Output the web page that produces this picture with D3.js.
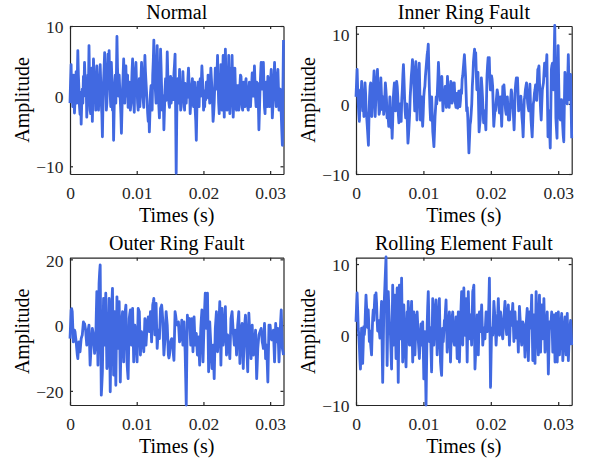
<!DOCTYPE html>
<html>
<head>
<meta charset="utf-8">
<script src="https://cdn.jsdelivr.net/npm/d3@7"></script>
<style>
  html, body { margin: 0; padding: 0; background: #fff; }
  svg { display: block; }
  text { font-family: "Liberation Serif", "Times New Roman", serif; }
</style>
</head>
<body>
<svg id="chart" width="590" height="464"></svg>
<script>
// ---------------- DATA ----------------
const titles = ["Normal", "Inner Ring Fault", "Outer Ring Fault", "Rolling Element Fault"];
const xLabel = "Times (s)";
const yLabel = "Amplitude";
const duration = 0.032;
const xTicks = [0, 0.01, 0.02, 0.03];
const xTickLabels = ["0", "0.01", "0.02", "0.03"];
const yTicksNormal = [-10, 0, 10];
const yTicksInner = [-10, 0, 10];
const yTicksOuter = [-20, 0, 20];
const yTicksRolling = [-10, 0, 10];
const yLimNormal = [-11.1, 10];
const yLimInner = [-10, 11.1];
const yLimOuter = [-24.3, 20.5];
const yLimRolling = [-10, 10.9];

const normal = [
-1,2,4.5,-0.5,1,-1.5,3,0.5,-2.4,-0.5,2,3.5,-1,2.5,6.5,3,1,-1.5,-2.6,
0.5,-4,-1,1,-1,2.8,1,4.8,2.5,0,1.5,-3,-1,3,1,7.2,2,-2,-2.5,2,
4,-3.6,0,5.3,3,1,2,-2,1,4.3,2.5,-1,-2,2,0,4.5,2,-1,-2.5,-5.8,
-1,2,4,6.2,3.5,1.8,-2,-1,2.5,6,3,6.5,2.5,0,-1.5,4.8,2.5,-2,0.5,-6.3,
-2,1.8,3,-1,3,8.5,4,1.8,0,3,1,-0.6,-2.5,-5.3,-2,1,3,5.3,2.5,-1,
1.5,4.3,0,2,3,-1.6,0,2,0.5,-2,-1,1,3.5,5.3,2,-1,-2.3,2,3.5,4.8,
2,1,-1,-2,1,2.5,-1.5,0.3,2.5,4.8,3,1,-0.5,-1.6,2.5,5.8,3.5,2,0.5,-0.6,
-2.5,-3.6,-1.5,-5.1,-2.5,0.5,1.5,-0.6,-2,3,5,8,4.5,2,0.5,-1,3,7.2,3.5,1,
-1.5,-3.1,1.5,6.7,4,1,-2,-1,0,-4.8,-2,1,2.5,-0.6,2,6.3,3,1,-1,-1.6,
0.5,2.8,-1,0,2.5,1.5,-0.5,3.3,4.5,6,-2,-11,-3,1,2.5,-1,0,3.8,1,-2,
-1.5,1,0,3.5,1.5,-0.6,-2,1.8,0.5,-1,1.5,-0.2,2.5,4,2,1,-2.5,-1,0,1.5,
2.5,-0.2,-1.5,1,2,-2,-3.5,-6.3,-2,1,2,-0.6,-1.5,1.8,2.5,0,2,4.3,2.5,1,
-2,-1,-1.5,0.8,-0.5,2,0,-0.2,3,1.8,0.5,-1,1.5,4,2.5,1,-1,-3.6,-2.5,-1,
1.5,4,2.5,1,3,5.8,2,-1,-2.5,2.8,0,4.5,1.5,-2,2,5.8,1,-3,1.5,6.7,
3,0,-2,3,1,5.8,2,-2.5,-1,4,0.5,5.8,2,-3,-1,3,4,1,-1.5,-2,
1.5,0,1.5,-2,-1,1.5,3,2.8,0.5,-1.6,-2,1,2,-0.6,-1.5,1.8,2.5,0,1,-1.6,
-2,1,2,-0.5,-1.5,0.3,1.5,3.3,1.5,0,1.5,4.3,2,-0.2,-1.5,2,0,1.8,-1,-4.8,
-2,1,3,4.8,2,1,2.5,4.8,1.5,-1.6,-2.5,1,2,-0.2,-1.5,2.8,1,0,-1.5,1.8,
2.5,3.8,0.5,-3.1,-1.5,1,2.5,4.8,1.5,0,-1.5,1.8,3,3.8,1,-2,-1,1,-0.5,-2.6,
-5,-7,1,8];

const inner = [
1,3,4.9,2,0,-1.5,-2.5,0,2,1,3.2,1.5,-1,1,-1.8,0.5,3,1.5,-1,
-2,-3.2,-4.5,-5.9,-2,1,2.5,3,0.5,-1.8,0,2,3,4.7,1.5,-1.8,0.5,2,3.5,4.9,
2.5,0.6,-1.5,-1,1,3.7,1.5,-0.8,0.5,1,-1.5,-0.8,1,3,2,0.6,-2,-1,-2,-3.2,
-1,1,-1.5,-3.4,-2,-4.9,-2.5,0.8,2,3,1.5,-1,1,3.2,2.5,1,-1.5,-2.7,-1,0,
-1.5,-2.5,0.5,2,4,5.6,3.5,1,-1,-2,-1.5,0,-3,-5.6,-4.5,-3,-1.5,1,2.5,4,
5,6.3,5,3.5,1.5,-1,3.5,6,2.5,-2.3,0.5,3,4.5,5.8,2,-2.3,-0.5,1,-1,-3.2,
-1.5,1,2,2.5,4,5,6,7,7.5,8.5,5,2,-0.5,-2.3,-1,1,-1.5,-4,-5,-6.1,
-4,-1.8,-0.5,1,0,1.5,3.5,5.9,4,2,0.5,1,2.5,3.9,1.5,-1,0.5,2,0.5,2.5,
1,-0.5,1.5,3.9,2,0,-0.5,1,2,3.2,1.5,0.1,0.5,2,3,3,1,0.1,-0.5,1.5,
0,-0.6,1,1.8,0.5,-0.4,0.5,2,1.5,3.5,4,5,6,7,5.5,4,1.5,-1,-0.5,-2,
-4.5,-7,-5,-3,-2.5,-1.3,0,2.5,4,6,7,7.8,6,7.3,4.5,2,2.5,4.5,0,-4,
-3,-2.3,0.5,3.7,2.5,1,-1,-2.7,-2,-1,-2.5,-3.7,0,4,5.5,6.6,5,6.6,3.5,2,
3,4,3.5,2.5,-0.5,-3.2,-2,-1,-1,0.1,1,2,1.5,0.6,-0.5,-1.3,-0.5,1,-1,-3.2,
-0.5,2.5,1,2.7,1.5,0,-1,-1.5,-0.5,1,-0.5,-2.3,-1,-2.3,-1,0.8,2,1.5,-0.5,0.1,
-2,-3.7,-1,2,3,3.7,2,3.7,1.5,-1,0,-0.8,0,1.1,-0.5,-2,-3,-4.7,-2,0.6,
1,2,2.5,3,1.5,0.1,-0.5,-1,1,2.8,0,-2.3,-3.5,-4.7,-2.5,0,0.5,1.5,2,2.7,
1.5,0.5,3,4.9,5,5.4,3,1,-1,-2.3,0,2,2.5,3,4.5,5.8,5,4,5.5,7,
1,-4.7,-3,-1,-4,-6.3,-1,4.9,5.5,5.8,4,2,7,11.2,5,-2,-3.5,-4.9,2,8.3,
3,-1,-2,-2.3,-1,0.6,-1,-3,-4.5,-5.4,0,4.5,3.5,2,1,0,3.5,7,3.5,0.6,
2.5,4.2,-0.5,-4.9];

const outer = [
-4.1,0,4.6,5,4.1,-0.5,-5.1,-3,-1.5,-2,-3.6,-5,-7.1,-9,-10.2,-7.5,-5.1,-6.5,-8.1,
-6,-4.1,-3.5,-3,-1,1,0,0.5,-0.5,-1.5,-4,-6.1,-4,-2,-1,0,-6,-12.2,-9,-6.1,
-3.5,-1,-2,-3,-6,-8.6,-7,-5.1,3,10.2,-1,-12.2,0,12.7,16,18.3,-2,-21.3,-18,-14.2,
-3,8.1,1,-6.1,2,9.7,-2,-13.2,-12,-10.2,-1,8.1,-6,-20.3,-9,2,7,11.2,-2,-15.2,
-5,4.1,-7,-18.3,-5,8.6,1,-7.1,0,7.1,-5,-17.3,-8,0.5,2,4.1,-3.5,-11.2,-4,3,
4.5,6.1,-2.5,-11.2,-14,-16.3,-7,2,3.5,4.6,-1,-6.1,-0.5,5.1,-3,-11.2,-5.5,0,-1.5,-3,
-7,-11.2,-3,5.1,4.5,4.1,-2.5,-9.1,-5.5,-2,-3,-4.1,-6,-8.1,-3,2,-2,-6.1,-3,0,
1.5,2.5,0,-2,1,4.1,-0.5,-5.1,0.5,6.1,7,8.1,2.5,-3,1.5,6.6,-0.5,-7.1,-4,-1.5,
-3,-4.1,0.5,5.1,5.5,6.1,4,1.5,-4,-9.1,-6.5,-4.1,0,4.1,2,0,-4.5,-9.1,-10,-9.1,
-7,-5.1,-4.5,-4.1,-5.5,-7.1,-9,-10.7,-3,4.1,3,1.5,0.5,0,0.5,1,-2,-5.1,-4.5,-4.1,
-1.5,1.5,-2.5,-6.1,-2.5,1,-3.5,-8.1,-16,-24.3,-10,3,1,-0.5,1,2,-2,-6.1,-2,2,
-3,-8.1,-3,2.5,-2,-6.1,-4.5,-2.5,-6,-9.1,-6,-3.6,-8,-12.2,-6.5,-1,2,4.6,-3.5,-11.2,
-5,1,5.5,9.7,4,-1,4.5,9.7,-2,-14.2,-6.5,1,-2.5,-6.1,-10,-13.2,-10,-6.1,-11,-16.3,
-8.5,-1,1.5,4.1,-2,-8.1,-5,-2,2.5,7.1,-2.5,-12.2,-3.5,5.1,-0.5,-6.1,-4,-2,2,5.6,
-2,-9.1,-6,-3,-4.5,-6.1,-8,-10.2,-4,2,3,4.1,1,-2,-4,-6.1,-4,-1.5,-5,-9.1,
-4.5,0,2,4.1,-4,-11.7,-6.5,-1,-0.5,0.5,-6,-13.2,-7,-1,1,3,-1.5,-6.1,-10,-14.2,
-5,3.6,0,-3,-6.5,-10.2,-5,0,-4.5,-9.1,-7.5,-6.1,-4,-1.5,-9,-16.3,-12,-7.1,-5,-3,
-2.5,-2,-1.5,-1,-3,-5.1,-6,-7.1,-3.5,0.5,-5,-10.2,-8,-6.1,-12,-17.3,-8.5,0,-2,0,
-2,-4.1,-4.5,-4.1,-3,-1.5,-6.5,-11.2,-5.5,0.5,-2.5,-5.1,-3,-1,-6,-11.2,-6.5,-2,1.5,4.6,
-1.5,-7.1,-8,-9.1];

const rolling = [
1.8,4,5.9,3.5,0.9,0,-1.5,-3.5,-4.9,-2,0.9,-1.5,-4.1,-1.5,1.1,0,0.9,3.5,5.6,
4,2.8,1,3.5,1.5,-1,0.5,-1,-2,-2.9,0,2.3,3.5,2,4,5.6,4,5.9,4.5,2,
0.5,2,1.5,0.4,-0.5,1.3,3,4.7,-1.5,-6.8,-2,3.2,5,7,9,11,3.5,-4.4,1,6.1,
4,1.8,0.5,-0.1,-2.5,-4.9,1,7,3,-1.5,2,5.6,1,-3.4,1.5,6.6,0,-6.8,0.5,7,
3,-0.6,3.5,8,2,-3.9,0.5,4.2,1.5,-1.3,-3,-4.6,-0.5,3.2,1,4.7,2.5,-1.5,-1.5,0.9,
3,4.7,0.5,-3.9,-0.5,3.2,0,-2.9,-0.5,2.8,0.5,3.2,1.5,-0.8,-2,-3.4,-1.5,0.4,1.5,-1.5,
-0.5,1.8,-2,-6.3,-3,0.4,-5,-10,-4,1.3,4,6.1,2.5,-1,1,0.9,-2.5,-5.3,0,5.1,
2,-1.5,0.5,3.2,4,4.9,1,-2.9,-1,1.3,3.5,5.1,0.5,-3.9,-5,-5.8,-2,0.9,-1,0.4,
2,1.8,3.5,4.9,1,-2.5,-1,0.9,2,3.2,0,-3.9,-1,1.8,2.5,3.2,1,-1,-1.5,0.9,
1,2.5,-0.5,-3.4,0,3.2,-0.5,-3.9,-1,1.3,4,6.1,2,-1.5,2.5,6.6,3,-0.1,2.5,5.1,
0.5,-3.9,1.5,6.1,3,-0.6,1,2.8,0.5,-1.5,2.5,6.1,6.5,7,1,-4.9,-3,-1.5,0,2.8,
0,-2.9,0.5,3.2,2,0.4,2,4.2,1.5,-1.5,-0.5,0.9,0,-0.6,1.5,3.2,2,0.4,0.5,1.8,
4.5,8,0,-7.5,-3,0.9,0.5,-0.1,2,4.7,3.5,2.3,0.5,-1.5,0,1.8,3,5.1,2.5,-0.1,
1,3.2,2,1.1,0,-0.6,1,2.5,3.5,4.7,3,0.9,0,1.3,3,4.2,1.5,-1.5,0.5,3.2,
2,1.3,3,4.4,1.5,-1,1,3.2,1.5,0.4,-0.5,1.8,0,-2.5,1,4,2.5,1.3,-0.5,-1.5,
0,1.8,1.5,0.9,-1,-3.2,-1.5,1.3,2.5,3.7,0,-3.7,-0.5,3.2,2,0.9,3,5.6,1,-3.7,
-0.5,2.8,-1,-4.1,1,6.1,3.5,0.9,-1,-2.9,1.5,5.6,1,-2.5,1,4.2,1.5,-0.6,2,5.1,
1.5,-2.5,-1,1.3,2,3.2,-1,-5.6,-2,1.8,1.5,0.9,2,3.2,0.5,-2.5,0,2.8,-0.5,-3.9,
0,3,-0.5,-3.9,-0.5,3.2,0.5,-2.9,-1,1.3,2,3,-0.5,-3.7,-2,0.4,1.5,2.5,0,-2.9,
0,3,-0.5,-3.7,-1.5,0.4,1,2,0.5,-1.5];

// ---------------- LAYOUT ----------------
const panels = [
  { title: titles[0], values: normal,  yLim: yLimNormal,  yTicks: yTicksNormal,  box: { l: 70,  r: 283.5, t: 26,    b: 174 } },
  { title: titles[1], values: inner,   yLim: yLimInner,   yTicks: yTicksInner,   box: { l: 356, r: 571.7, t: 26,    b: 174 } },
  { title: titles[2], values: outer,   yLim: yLimOuter,   yTicks: yTicksOuter,   box: { l: 70,  r: 283.5, t: 257.7, b: 405 } },
  { title: titles[3], values: rolling, yLim: yLimRolling, yTicks: yTicksRolling, box: { l: 356, r: 571.7, t: 257.7, b: 405 } }
];

const axisColor = "#262626";
const lineColor = "#4169E1";
const svg = d3.select("#chart");

panels.forEach(p => {
  const { l, r, t, b } = p.box;
  const x = d3.scaleLinear().domain([0, duration]).range([l, r]);
  const y = d3.scaleLinear().domain(p.yLim).range([b, t]);
  const n = p.values.length;
  const pts = p.values.map((v, i) => [i * duration / (n - 1), v]);

  const g = svg.append("g");

  const styleAxis = sel => {
    sel.select(".domain").attr("stroke", axisColor).attr("stroke-width", 1.2);
    sel.selectAll(".tick line").attr("stroke", axisColor).attr("stroke-width", 1.2);
    sel.selectAll(".tick text").attr("fill", axisColor)
      .style("font-family", '"Liberation Serif", "Times New Roman", serif')
      .style("font-size", "17.5px");
  };

  const bottom = g.append("g").attr("transform", `translate(0,${b})`)
    .call(d3.axisBottom(x).tickValues(xTicks).tickFormat((d, i) => xTickLabels[i])
      .tickSizeInner(-3).tickSizeOuter(0).tickPadding(12.5));
  styleAxis(bottom);
  const top = g.append("g").attr("transform", `translate(0,${t})`)
    .call(d3.axisTop(x).tickValues(xTicks).tickFormat("")
      .tickSizeInner(-3).tickSizeOuter(0));
  styleAxis(top);
  const left = g.append("g").attr("transform", `translate(${l},0)`)
    .call(d3.axisLeft(y).tickValues(p.yTicks).tickFormat(d3.format("d"))
      .tickSizeInner(-3).tickSizeOuter(0).tickPadding(6.5));
  styleAxis(left);
  left.selectAll(".tick text").attr("dy", "0.38em");
  const right = g.append("g").attr("transform", `translate(${r},0)`)
    .call(d3.axisRight(y).tickValues(p.yTicks).tickFormat("")
      .tickSizeInner(-3).tickSizeOuter(0));
  styleAxis(right);

  const line = d3.line().x(d => x(d[0])).y(d => y(d[1]));
  g.append("path").datum(pts)
    .attr("d", line)
    .attr("fill", "none")
    .attr("stroke", lineColor)
    .attr("stroke-width", 2.8)
    .attr("stroke-linejoin", "round");

  g.append("text")
    .attr("x", (l + r) / 2).attr("y", t - 7.5)
    .attr("text-anchor", "middle")
    .attr("fill", "#000")
    .style("font-size", "20px")
    .text(p.title);

  g.append("text")
    .attr("x", (l + r) / 2).attr("y", b + 48)
    .attr("text-anchor", "middle")
    .attr("fill", "#000")
    .style("font-size", "20px")
    .text(xLabel);

  g.append("text")
    .attr("transform", `translate(${l - 41},${(t + b) / 2}) rotate(-90)`)
    .attr("text-anchor", "middle")
    .attr("fill", "#000")
    .style("font-size", "20px")
    .text(yLabel);
});
</script>
</body>
</html>
